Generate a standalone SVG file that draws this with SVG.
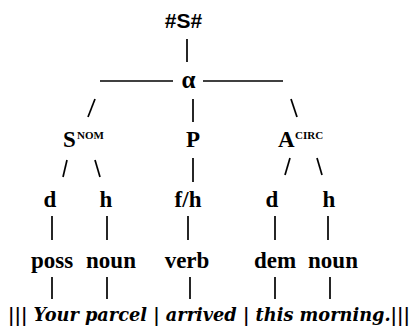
<svg xmlns="http://www.w3.org/2000/svg" width="415" height="335" viewBox="0 0 415 335">
<style>
.t{font-family:"Liberation Serif","Times New Roman",serif;font-weight:bold;font-size:23px;fill:#000;text-anchor:middle}
.a{font-family:"Liberation Serif","Times New Roman",serif;font-weight:bold;font-size:25px;fill:#000;text-anchor:middle}
.h{font-family:"Liberation Sans",Arial,sans-serif;font-weight:bold;font-size:21px;fill:#000;text-anchor:middle}
.sup{font-family:"Liberation Serif","Times New Roman",serif;font-weight:bold;font-size:11px;fill:#000}
.s{font-family:"DejaVu Serif",serif;font-weight:bold;font-style:italic;font-size:18px;fill:#000}
.l{stroke:#000;stroke-width:1.7;fill:none}
</style>
<rect width="415" height="335" fill="#fff"/>
<g id="connectors" class="l">
<line x1="187" y1="39" x2="187" y2="62"/>
<line x1="100" y1="81" x2="173" y2="81"/>
<line x1="203" y1="81" x2="283" y2="81"/>
<line x1="95" y1="99" x2="88" y2="117"/>
<line x1="193" y1="99" x2="193" y2="122"/>
<line x1="291" y1="99" x2="297" y2="117"/>
<line x1="67" y1="160" x2="63" y2="177"/>
<line x1="95" y1="160" x2="100" y2="177"/>
<line x1="193" y1="158" x2="193" y2="182"/>
<line x1="290" y1="158" x2="285" y2="175"/>
<line x1="317" y1="158" x2="322" y2="175"/>
<line x1="52" y1="216" x2="52" y2="240"/>
<line x1="107" y1="216" x2="107" y2="240"/>
<line x1="188" y1="216" x2="188" y2="240"/>
<line x1="275" y1="216" x2="275" y2="240"/>
<line x1="328" y1="216" x2="328" y2="240"/>
<line x1="52" y1="277" x2="52" y2="299"/>
<line x1="107" y1="277" x2="107" y2="299"/>
<line x1="190" y1="277" x2="190" y2="299"/>
<line x1="275" y1="277" x2="275" y2="299"/>
<line x1="330" y1="277" x2="330" y2="299"/>
</g>
<g id="n-root"><text class="h" x="183.5" y="28">#S#</text></g>
<g id="n-alpha"><text class="a" x="188.5" y="88">α</text></g>
<g id="n-S"><text class="t" x="63" y="147" style="text-anchor:start">S</text><text class="sup" x="77" y="139">NOM</text></g>
<g id="n-P"><text class="t" x="193" y="147">P</text></g>
<g id="n-A"><text class="t" x="278" y="147" style="text-anchor:start">A</text><text class="sup" x="295" y="139">CIRC</text></g>
<g id="n-d1"><text class="t" x="50" y="207">d</text></g>
<g id="n-h1"><text class="t" x="106" y="207">h</text></g>
<g id="n-fh"><text class="t" x="188" y="207">f/h</text></g>
<g id="n-d2"><text class="t" x="272" y="207">d</text></g>
<g id="n-h2"><text class="t" x="329" y="207">h</text></g>
<g id="n-poss"><text class="t" x="52" y="268">poss</text></g>
<g id="n-noun1"><text class="t" x="111" y="268">noun</text></g>
<g id="n-verb"><text class="t" x="187" y="268">verb</text></g>
<g id="n-dem"><text class="t" x="275" y="268">dem</text></g>
<g id="n-noun2"><text class="t" x="333" y="268">noun</text></g>
<g id="sentence">
<text class="s" x="8" y="321" textLength="402" lengthAdjust="spacingAndGlyphs">||| Your parcel | arrived | this morning.|||</text>
</g>
</svg>
